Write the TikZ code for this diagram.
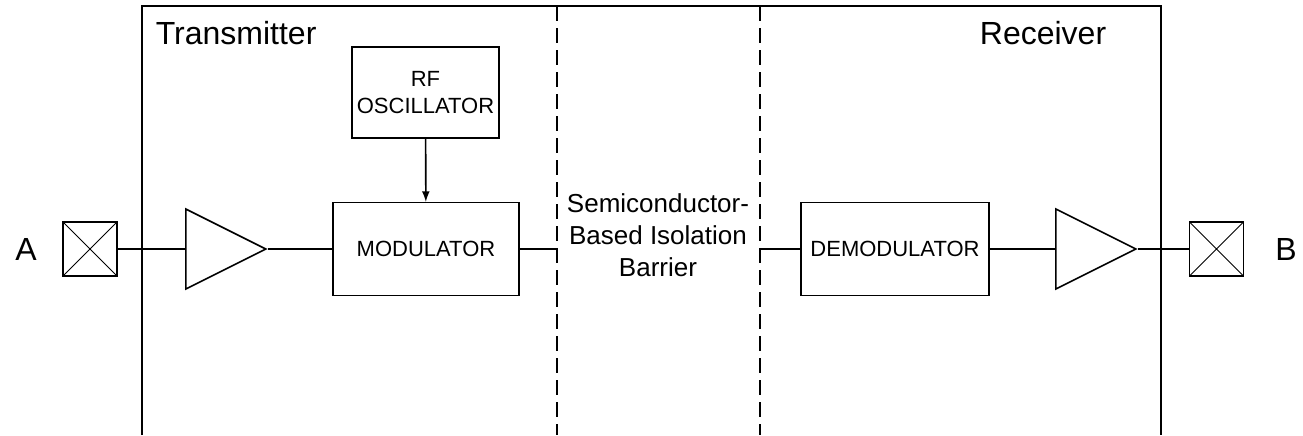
\documentclass[tikz,border=0pt]{standalone}
\usepackage{fontspec}
\setmainfont{Liberation Sans}
\usetikzlibrary{%
  arrows,%
  calc,%
  shapes.geometric,%
  positioning}

\begin{document}
\begin{tikzpicture}[x=0.5pt,y=-0.5pt,line width=0.8pt,
  bloc/.style={rectangle,draw,inner sep=0pt,align=center,font=\fontsize{11}{13.5}\selectfont},
  ampli/.style={isosceles triangle,isosceles triangle stretches,draw,minimum width=40pt,minimum height=40pt,inner sep=0pt,anchor=lower side},
  borne/.style={rectangle,draw,minimum size=27pt,inner sep=0pt,
    path picture={\draw[line width=0.5pt] (path picture bounding box.north west) -- (path picture bounding box.south east)
      (path picture bounding box.south west) -- (path picture bounding box.north east);}},
  titre/.style={inner sep=0pt,font=\fontsize{16}{19}\selectfont}]
\useasboundingbox (0,0) rectangle (1303,435);
% cadre et barriere
\draw (142,435) -- (142,6) -- (1161,6) -- (1161,435);
\draw[dashed,dash pattern=on 7.5pt off 3.5pt] (557,6) -- (557,435);
\draw[dashed,dash pattern=on 7.5pt off 3.5pt] (760,6) -- (760,435);
\coordinate (BG) at (557,249);
\coordinate (BD) at (760,249);
% titres
\node (TX) at (155,33) [titre,anchor=west] {Transmitter};
\node (RX) at (1107,33) [titre,anchor=east] {Receiver};
\node (SB) at (658,235) [align=center,inner sep=0pt,font=\fontsize{13}{16}\selectfont] {Semiconductor-\\Based Isolation\\Barrier};
% chaine d'emission
\node (A) at (26,249) [titre] {A};
\node (PA) at (90,249) [borne] {};
\node (AMP1) at (185,249) [ampli] {};
\node (MOD) at (426,249) [bloc,minimum width=93pt,minimum height=46.5pt] {MODULATOR};
\node (OSC) at (425.5,92.5) [bloc,minimum width=73.5pt,minimum height=45.5pt] {RF\\OSCILLATOR};
% chaine de reception
\node (DEM) at (895,249) [bloc,minimum width=94pt,minimum height=46.5pt] {DEMODULATOR};
\node (AMP2) at (1055,249) [ampli] {};
\node (PB) at (1216.5,249) [borne] {};
\node (B) at (1286,249) [titre] {B};
% liaisons
\draw (PA) -- (AMP1.lower side);
\draw (AMP1.apex) -- (MOD);
\draw[-latex] (OSC) -- (MOD);
\draw (MOD) -- (BG);
\draw (BD) -- (DEM);
\draw (DEM) -- (AMP2.lower side);
\draw (AMP2.apex) -- (PB);
\end{tikzpicture}
\end{document}
